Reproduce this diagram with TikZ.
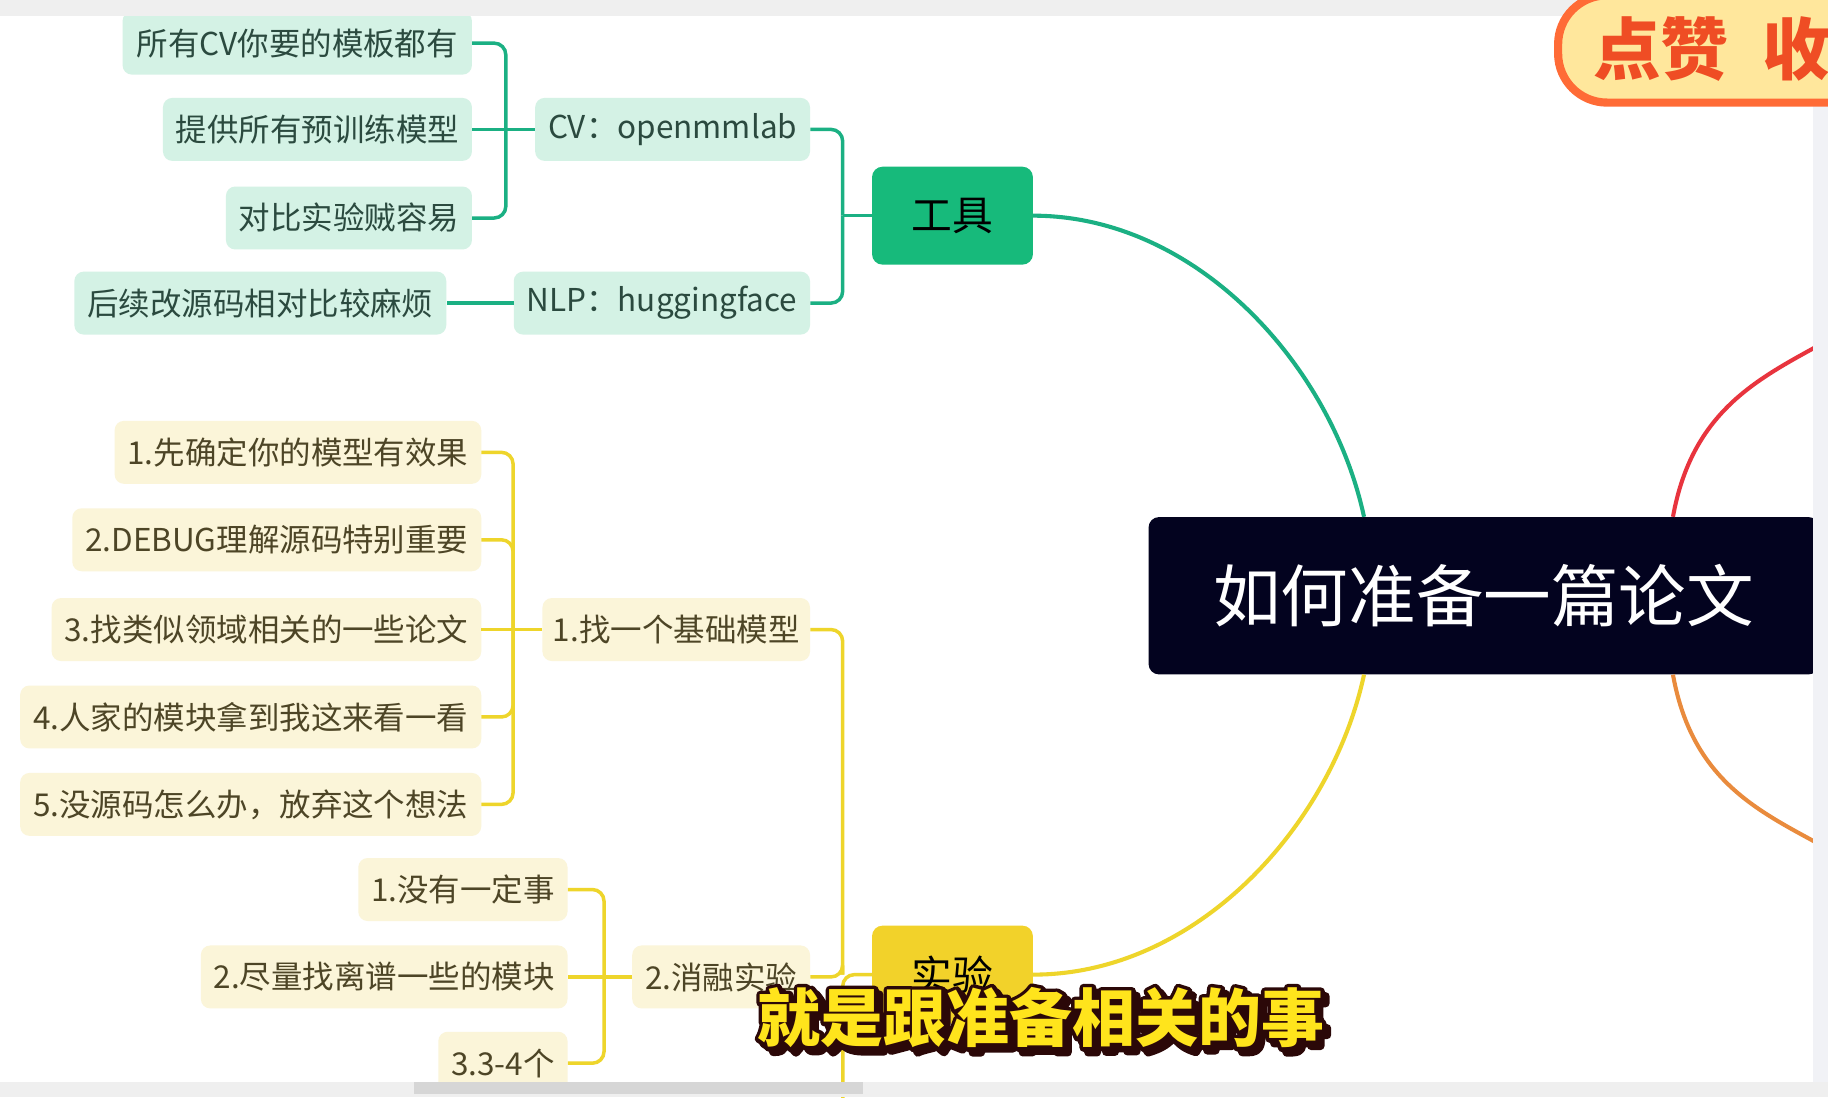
\documentclass[tikz,border=0pt]{standalone}
\usepackage{fontspec}
\setmainfont{Noto Sans CJK SC}
\usetikzlibrary{calc}

\definecolor{linegreen}{HTML}{1BB083}
\definecolor{toolgreen}{HTML}{17BA7B}
\definecolor{mint}{HTML}{D4F2E5}
\definecolor{greentext}{HTML}{2B4A3F}
\definecolor{lineyellow}{HTML}{EED52B}
\definecolor{expyellow}{HTML}{F2D22A}
\definecolor{cream}{HTML}{FBF5D9}
\definecolor{yellowtext}{HTML}{4D4526}
\definecolor{titlenavy}{HTML}{03031F}
\definecolor{linered}{HTML}{E8343E}
\definecolor{lineorange}{HTML}{E98B3D}
\definecolor{bargrey}{HTML}{EFEFEF}
\definecolor{thumbgrey}{HTML}{D6D6D6}
\definecolor{stripgrey}{HTML}{F1F2F6}
\definecolor{stickerfill}{HTML}{FFE79C}
\definecolor{stickerline}{HTML}{FF6B36}
\definecolor{stickertext}{HTML}{EF4D24}
\definecolor{subyellow}{HTML}{FFE41C}
\definecolor{subred}{HTML}{C41A1A}

% outlined glyphs for the caption
\newcommand\outlineon[1]{\special{pdf:literal direct 1 j 1 J #1 w 0.17 0.03 0.03 RG 2 Tr}}
\newcommand\outlineoff{\special{pdf:literal direct 0 Tr}}

\tikzset{
  topic/.style={rounded corners=8pt, inner xsep=11pt, minimum height=54pt,
    anchor=east, font=\fontsize{27}{32}\selectfont},
  gitem/.style={topic, fill=mint, text=greentext},
  yitem/.style={topic, fill=cream, text=yellowtext},
  mainbox/.style={rounded corners=9pt, minimum width=138pt, minimum height=84pt,
    font=\fontsize{35}{40}\selectfont},
  gline/.style={draw=linegreen, line width=3pt, rounded corners=10pt},
  yline/.style={draw=lineyellow, line width=3pt, rounded corners=10pt},
  mainline/.style={line width=3.5pt},
  subtext/.style={font=\fontsize{54}{60}\selectfont\bfseries},
}

\begin{document}
\begin{tikzpicture}[x=1pt, y=-1pt]
  \useasboundingbox (0,0) rectangle (1568,941);
  \begin{scope}
  \clip (0,0) rectangle (1568,941);
  \fill[white] (0,0) rectangle (1568,941);

  % --- centre ---
  \node[fill=titlenavy, text=white, rounded corners=9pt, anchor=west,
    minimum width=575pt, minimum height=135pt,
    font=\fontsize{58}{64}\selectfont] (title) at (985,511) {如何准备一篇论文};

  % --- 工具 branch ---
  \node[mainbox, fill=toolgreen] (tool) at (817,185) {工具};
  \node[gitem] (cv) at (695,111) {CV：openmmlab};
  \node[gitem] (nlp) at (695,260) {NLP：huggingface};
  \node[gitem, inner xsep=12pt] (cvall) at (405,37) {所有CV你要的模板都有};
  \node[gitem] (cvpre) at (405,111) {提供所有预训练模型};
  \node[gitem] (cvcmp) at (405,187) {对比实验贼容易};
  \node[gitem] (nlpsrc) at (383,260) {后续改源码相对比较麻烦};

  \coordinate (tx) at ($(tool.west)+(-25,0)$);
  \coordinate (cx) at ($(cv.west)+(-25,0)$);
  \foreach \c in {cv,nlp} \draw[gline] (\c.east) -| (tx);
  \draw[gline] (tool.west) -- (tx);
  \foreach \c in {cvall,cvcmp} \draw[gline] (\c.east) -| (cx);
  \draw[gline] (cv.west) -- (cvpre.east);
  \draw[gline] (nlp.west) -- (nlpsrc.east);

  % --- 实验 branch ---
  \node[mainbox, fill=expyellow] (exp) at (817,836) {实验};
  \node[yitem, inner xsep=9pt] (base) at (695,540) {1.找一个基础模型};
  \node[yitem] (ablation) at (695,838) {2.消融实验};
  \node[yitem] (b1) at (413,388) {1.先确定你的模型有效果};
  \node[yitem] (b2) at (413,463) {2.DEBUG理解源码特别重要};
  \node[yitem] (b3) at (413,540) {3.找类似领域相关的一些论文};
  \node[yitem] (b4) at (413,615) {4.人家的模块拿到我这来看一看};
  \node[yitem] (b5) at (413,690) {5.没源码怎么办，放弃这个想法};
  \node[yitem] (a1) at (487,763) {1.没有一定事};
  \node[yitem] (a2) at (487,838) {2.尽量找离谱一些的模块};
  \node[yitem] (a3) at (487,912) {3.3-4个};

  \coordinate (ex) at ($(exp.west)+(-25,0)$);
  \coordinate (bx) at ($(base.west)+(-25,0)$);
  \coordinate (ax) at ($(ablation.west)+(-24,0)$);
  \coordinate (more) at (723,980);
  \foreach \c in {base,ablation} \draw[yline] (\c.east) -| (ex);
  \draw[yline] (exp.west) -- (ex) -- (more);
  \foreach \c in {b1,b2,b4,b5} \draw[yline] (\c.east) -| (bx);
  \draw[yline] (base.west) -- (b3.east);
  \foreach \c in {a1,a3} \draw[yline] (\c.east) -| (ax);
  \draw[yline] (ablation.west) -- (a2.east);

  % --- main curves ---
  \coordinate (redend) at (1580,285);
  \coordinate (orangeend) at (1580,735);
  \draw[mainline, linegreen] (tool.east) .. controls +(140,0) and +(-28,-130) .. ($(title.north west)+(185,0)$);
  \draw[mainline, lineyellow] ($(title.south west)+(185,0)$) .. controls +(-28,130) and +(140,0) .. (exp.east);
  \draw[mainline, linered] ($(title.north west)+(450,0)$) .. controls +(18,-100) and +(-60,35) .. (redend);
  \draw[mainline, lineorange] ($(title.south west)+(450,0)$) .. controls +(18,100) and +(-60,-35) .. (orangeend);

  % --- window edges ---
  \fill[stripgrey] (1555,14) rectangle (1568,928);
  \fill[bargrey] (0,0) rectangle (1568,14);
  \fill[bargrey] (0,928) rectangle (1568,941);
  \fill[thumbgrey] (355,928) rectangle (740,938);

  % --- sticker ---
  \node[fill=stickerfill, draw=stickerline, line width=7pt, rounded corners=42pt,
    anchor=west, minimum height=92pt, inner xsep=30pt, text=stickertext,
    font=\fontsize{58}{64}\selectfont\bfseries] (like) at (1333,42) {点赞\hspace{29pt}收藏};

  % --- caption ---
  \node[subtext, text=subred] (subs) at (897,877) {\outlineon{7}就是跟准备相关的事\outlineoff};
  \node[subtext, text=subyellow] (sub) at (893,873) {\outlineon{7}就是跟准备相关的事\outlineoff};
  \node[subtext, text=subyellow] (subf) at (893,873) {就是跟准备相关的事};
  \end{scope}
\end{tikzpicture}
\end{document}
